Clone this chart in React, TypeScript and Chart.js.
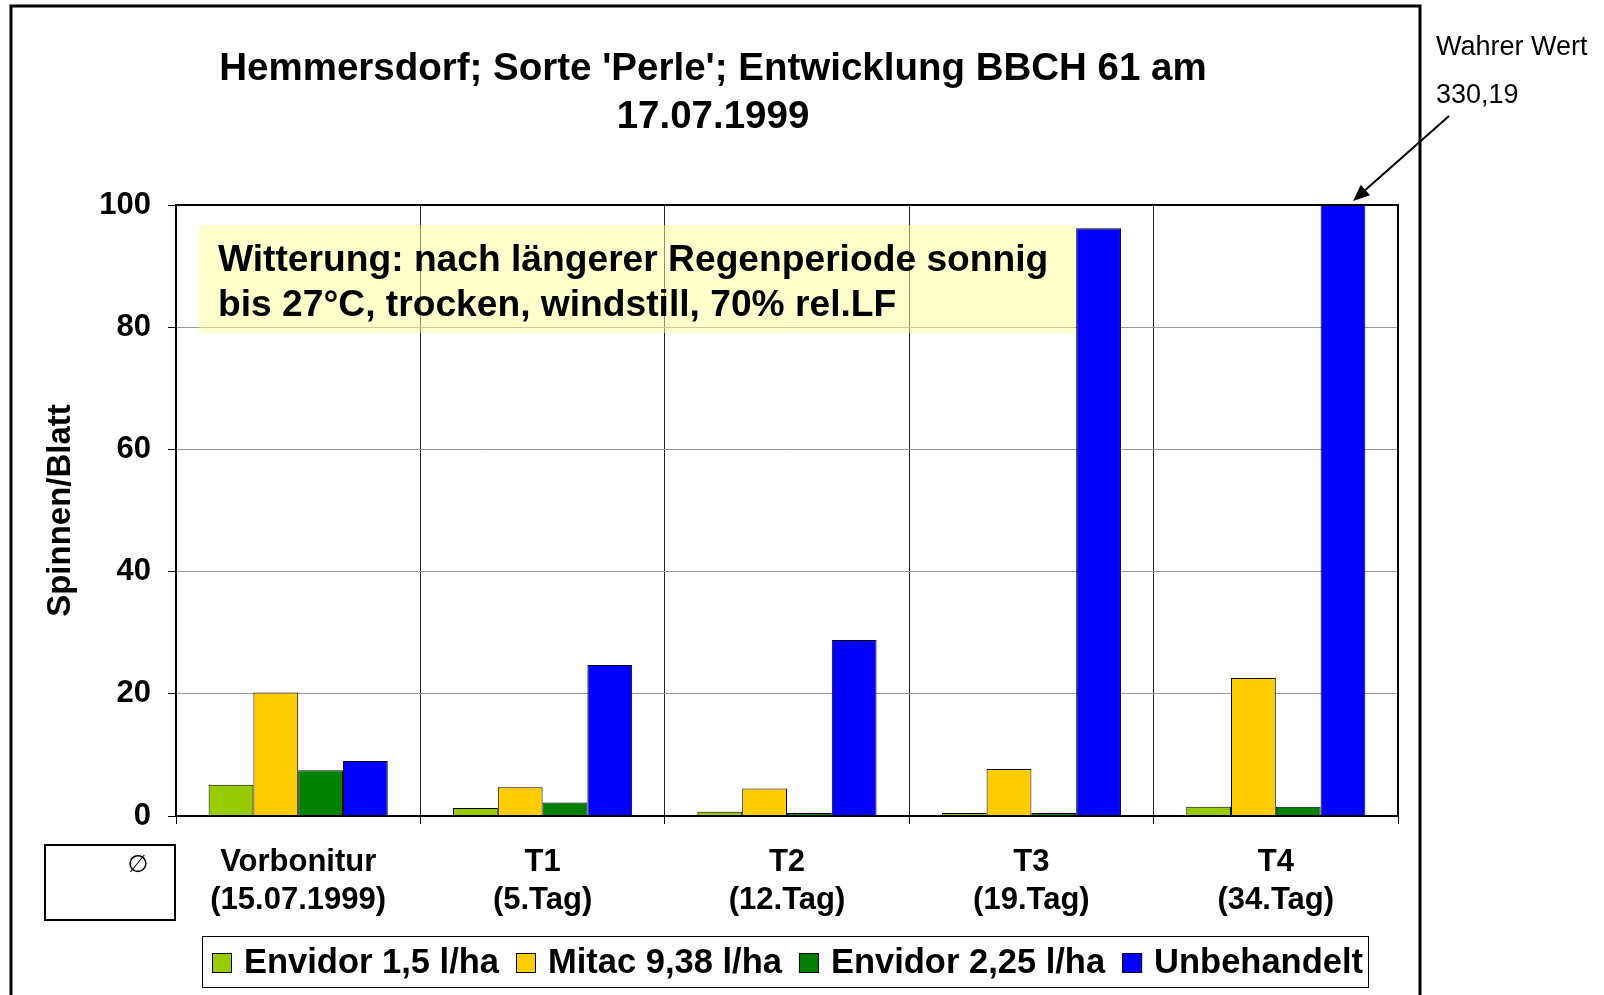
import { useEffect, useRef } from "react";
import { Chart, registerables } from "chart.js";

Chart.register(...registerables);

const categories = [
  ["Vorbonitur", "(15.07.1999)"],
  ["T1", "(5.Tag)"],
  ["T2", "(12.Tag)"],
  ["T3", "(19.Tag)"],
  ["T4", "(34.Tag)"],
];
const seriesNames = ["Envidor 1,5 l/ha", "Mitac 9,38 l/ha", "Envidor 2,25 l/ha", "Unbehandelt"];
const envidor15 = [5.1, 1.3, 0.7, 0.5, 1.5];
const mitac938 = [20.2, 4.7, 4.5, 7.7, 22.6];
const envidor225 = [7.5, 2.2, 0.5, 0.5, 1.5];
const unbehandelt = [9.0, 24.7, 28.8, 96.2, 330.19];
const seriesColors = ["#99CC00", "#FFCC00", "#008000", "#0000FF"];
const yMin = 0;
const yMax = 100;
const yStep = 20;
const titleLines = ["Hemmersdorf; Sorte 'Perle'; Entwicklung BBCH 61 am", "17.07.1999"];
const noteLines = ["Witterung: nach längerer Regenperiode sonnig", "bis 27°C, trocken, windstill, 70% rel.LF"];
const trueValueLines = ["Wahrer Wert", "330,19"];
const yAxisTitle = "Spinnen/Blatt";
const avgSymbol = "∅";

const FONT = "'Liberation Sans', Arial, sans-serif";

const decorPlugin = {
  id: "decor",
  afterDraw(chart: any) {
    const ctx = chart.ctx as CanvasRenderingContext2D;
    const ca = chart.chartArea;
    ctx.save();

    // outer frame
    ctx.strokeStyle = "#000";
    ctx.lineWidth = 3;
    ctx.beginPath();
    ctx.moveTo(11, 1000);
    ctx.lineTo(11, 6);
    ctx.lineTo(1420, 6);
    ctx.lineTo(1420, 1000);
    ctx.stroke();

    // plot frame
    ctx.lineWidth = 2;
    ctx.strokeRect(ca.left, ca.top, ca.right - ca.left, ca.bottom - ca.top);

    // title
    ctx.fillStyle = "#000";
    ctx.font = `bold 38.5px ${FONT}`;
    ctx.textAlign = "center";
    ctx.textBaseline = "middle";
    ctx.fillText(titleLines[0], 713, 69);
    ctx.fillText(titleLines[1], 713, 117);

    // note box
    ctx.fillStyle = "rgba(255,255,153,0.5)";
    ctx.fillRect(199, 225, 876, 108);
    ctx.fillStyle = "#000";
    ctx.font = `bold 37.2px ${FONT}`;
    ctx.textAlign = "left";
    ctx.fillText(noteLines[0], 218, 261);
    ctx.fillText(noteLines[1], 218, 306);

    // true value annotation
    ctx.font = `27px ${FONT}`;
    ctx.fillText(trueValueLines[0], 1436, 48);
    ctx.fillText(trueValueLines[1], 1436, 96);

    // arrow
    const x1 = 1449, y1 = 116, x2 = 1353, y2 = 201;
    const ang = Math.atan2(y2 - y1, x2 - x1);
    ctx.strokeStyle = "#000";
    ctx.lineWidth = 2;
    ctx.beginPath();
    ctx.moveTo(x1, y1);
    ctx.lineTo(x2 - 10 * Math.cos(ang), y2 - 10 * Math.sin(ang));
    ctx.stroke();
    ctx.beginPath();
    ctx.moveTo(x2, y2);
    ctx.lineTo(x2 - 18 * Math.cos(ang - 0.4), y2 - 18 * Math.sin(ang - 0.4));
    ctx.lineTo(x2 - 18 * Math.cos(ang + 0.4), y2 - 18 * Math.sin(ang + 0.4));
    ctx.closePath();
    ctx.fillStyle = "#000";
    ctx.fill();

    // bottom-left box
    ctx.lineWidth = 2;
    ctx.strokeRect(45, 845, 130, 75);
    ctx.font = `24px 'DejaVu Sans', sans-serif`;
    ctx.textAlign = "center";
    ctx.fillText(avgSymbol, 138, 866);

    // legend
    ctx.lineWidth = 1;
    ctx.strokeRect(202.5, 936.5, 1166, 51);
    ctx.font = `bold 34.5px ${FONT}`;
    ctx.textAlign = "left";
    let x = 212;
    const cy = 963;
    chart.data.datasets.forEach((ds: any) => {
      ctx.fillStyle = ds.backgroundColor;
      ctx.fillRect(x, cy - 10, 20, 20);
      ctx.strokeStyle = "#000";
      ctx.strokeRect(x + 0.5, cy - 9.5, 19, 19);
      ctx.fillStyle = "#000";
      ctx.fillText(ds.label, x + 32, cy);
      x += 32 + ctx.measureText(ds.label).width + 17;
    });

    ctx.restore();
  },
};

export default function App() {
  const ref = useRef<HTMLCanvasElement>(null);

  useEffect(() => {
    const seriesValues = [envidor15, mitac938, envidor225, unbehandelt];
    const chart = new Chart(ref.current as HTMLCanvasElement, {
      type: "bar",
      data: {
        labels: categories,
        datasets: seriesNames.map((name, i) => ({
          label: name,
          data: seriesValues[i],
          backgroundColor: seriesColors[i],
          borderColor: "#000",
          borderWidth: 1,
          categoryPercentage: 0.733,
          barPercentage: 1,
        })),
      },
      options: {
        responsive: false,
        animation: false,
        devicePixelRatio: 1,
        layout: { padding: { top: 205, right: 206, left: 0, bottom: 0 } },
        plugins: {
          legend: { display: false },
          title: { display: false },
          tooltip: { enabled: false },
        },
        scales: {
          x: {
            afterFit: (s: any) => {
              s.height = 179;
            },
            grid: {
              color: "#222",
              lineWidth: 1,
              tickLength: 8,
              tickColor: "#000",
              offset: true,
            },
            border: { color: "#000", width: 2 },
            ticks: {
              color: "#000",
              font: { family: FONT, size: 31, weight: "bold", lineHeight: 1.22 },
              padding: 20,
              maxRotation: 0,
              autoSkip: false,
            },
          },
          y: {
            min: yMin,
            max: yMax,
            afterFit: (s: any) => {
              s.width = 176;
            },
            grid: {
              color: "#999",
              lineWidth: 1,
              tickLength: 8,
              tickColor: "#000",
            },
            border: { color: "#000", width: 2 },
            ticks: {
              stepSize: yStep,
              color: "#000",
              font: { family: FONT, size: 31, weight: "bold" },
              padding: 17,
            },
            title: {
              display: true,
              text: yAxisTitle,
              color: "#000",
              font: { family: FONT, size: 33, weight: "bold" },
              padding: { top: 41, bottom: 0 },
            },
          },
        },
      },
      plugins: [decorPlugin],
    });
    return () => chart.destroy();
  }, []);

  return (
    <div style={{ position: "absolute", left: 0, top: 0, width: 1604, height: 995, background: "#fff" }}>
      <canvas ref={ref} width={1604} height={995} style={{ display: "block" }} />
    </div>
  );
}
